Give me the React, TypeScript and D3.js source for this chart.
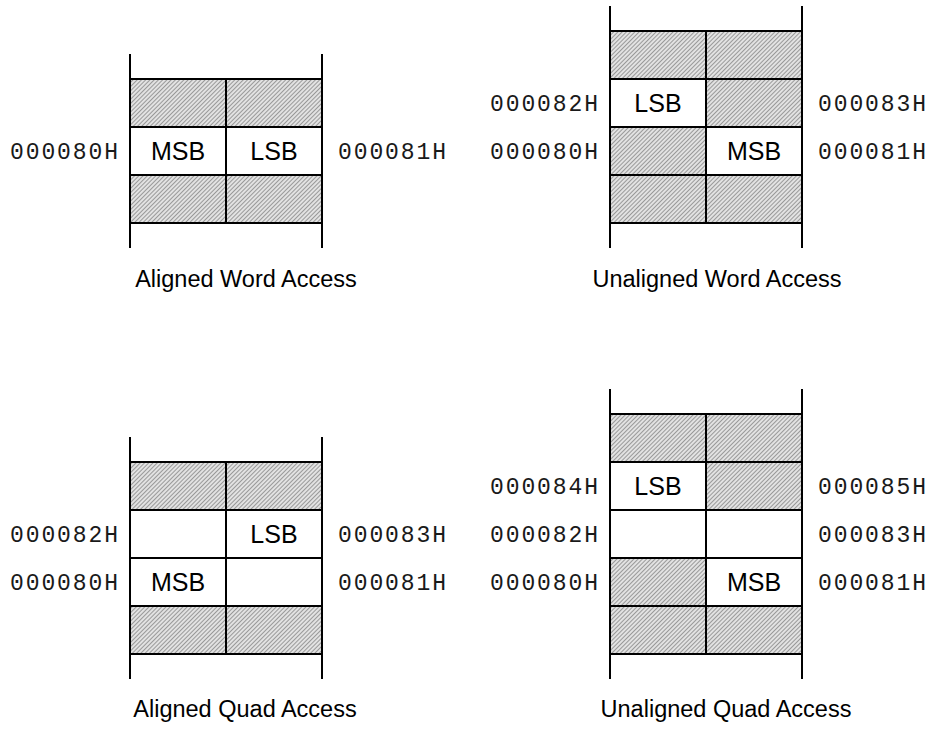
import React from "react";
import * as d3 from "d3";

// Each row (top to bottom): [left cell, right cell]; "#" = hatched
const alignedWordCells = [["#", "#"], ["MSB", "LSB"], ["#", "#"]];
const alignedWordLeft = ["", "000080H", ""];
const alignedWordRight = ["", "000081H", ""];

const unalignedWordCells = [["#", "#"], ["LSB", "#"], ["#", "MSB"], ["#", "#"]];
const unalignedWordLeft = ["", "000082H", "000080H", ""];
const unalignedWordRight = ["", "000083H", "000081H", ""];

const alignedQuadCells = [["#", "#"], ["", "LSB"], ["MSB", ""], ["#", "#"]];
const alignedQuadLeft = ["", "000082H", "000080H", ""];
const alignedQuadRight = ["", "000083H", "000081H", ""];

const unalignedQuadCells = [["#", "#"], ["LSB", "#"], ["", ""], ["#", "MSB"], ["#", "#"]];
const unalignedQuadLeft = ["", "000084H", "000082H", "000080H", ""];
const unalignedQuadRight = ["", "000085H", "000083H", "000081H", ""];

const titles = ["Aligned Word Access", "Unaligned Word Access", "Aligned Quad Access", "Unaligned Quad Access"];

const panels = [
  { cells: alignedWordCells, left: alignedWordLeft, right: alignedWordRight, title: titles[0], x0: 130, top: 79, titleX: 246, titleY: 287 },
  { cells: unalignedWordCells, left: unalignedWordLeft, right: unalignedWordRight, title: titles[1], x0: 610, top: 31, titleX: 717, titleY: 287 },
  { cells: alignedQuadCells, left: alignedQuadLeft, right: alignedQuadRight, title: titles[2], x0: 130, top: 462, titleX: 245, titleY: 717 },
  { cells: unalignedQuadCells, left: unalignedQuadLeft, right: unalignedQuadRight, title: titles[3], x0: 610, top: 414, titleX: 726, titleY: 717 },
];

const ROW_H = 48;
const COL_W = 96;
const EXT = 25;

function Panel({ p }: { p: (typeof panels)[number] }) {
  const n = p.cells.length;
  const y = d3.scaleLinear().domain([0, n]).range([p.top, p.top + n * ROW_H]);
  const x = d3.scaleLinear().domain([0, 2]).range([p.x0, p.x0 + 2 * COL_W]);
  const mono = {
    fontFamily: "'Liberation Mono', 'Courier New', monospace",
    fontSize: 23,
    fill: "#1a1a1a",
  };
  return (
    <g>
      {p.cells.map((row, r) =>
        row.map((c, ci) => (
          <g key={`${r}-${ci}`}>
            <rect
              x={x(ci)}
              y={y(r)}
              width={x(ci + 1) - x(ci)}
              height={y(r + 1) - y(r)}
              fill={c === "#" ? "url(#hatch)" : "#fff"}
              stroke="#000"
              strokeWidth={2}
            />
            {c !== "#" && c !== "" && (
              <text
                x={(x(ci) + x(ci + 1)) / 2}
                y={(y(r) + y(r + 1)) / 2}
                dy="0.35em"
                textAnchor="middle"
                fontFamily="'Liberation Sans', Arial, sans-serif"
                fontSize={25}
              >
                {c}
              </text>
            )}
          </g>
        ))
      )}
      <line x1={x(0)} x2={x(0)} y1={y(0) - EXT} y2={y(n) + EXT} stroke="#000" strokeWidth={2} />
      <line x1={x(2)} x2={x(2)} y1={y(0) - EXT} y2={y(n) + EXT} stroke="#000" strokeWidth={2} />
      {p.left.map((t, r) =>
        t ? (
          <text
            key={`l${r}`}
            x={x(0) - 12}
            y={(y(r) + y(r + 1)) / 2}
            dy="0.35em"
            textAnchor="end"
            {...mono}
            textLength={108}
            lengthAdjust="spacing"
          >
            {t}
          </text>
        ) : null
      )}
      {p.right.map((t, r) =>
        t ? (
          <text
            key={`r${r}`}
            x={x(2) + 16}
            y={(y(r) + y(r + 1)) / 2}
            dy="0.35em"
            textAnchor="start"
            {...mono}
            textLength={108}
            lengthAdjust="spacing"
          >
            {t}
          </text>
        ) : null
      )}
      <text
        x={p.titleX}
        y={p.titleY}
        textAnchor="middle"
        fontFamily="'Liberation Sans', Arial, sans-serif"
        fontSize={23.5}
      >
        {p.title}
      </text>
    </g>
  );
}

export default function App() {
  return (
    <svg
      width={932}
      height={732}
      style={{ position: "absolute", left: 0, top: 0, background: "#fff" }}
    >
      <defs>
        <pattern id="hatch" width={3} height={3} patternUnits="userSpaceOnUse" patternTransform="rotate(45)">
          <rect width={3} height={3} fill="#e2e2e2" />
          <line x1={0.5} y1={0} x2={0.5} y2={3} stroke="#999" strokeWidth={1} />
        </pattern>
      </defs>
      <rect width={932} height={732} fill="#fff" />
      {panels.map((p, i) => (
        <Panel key={i} p={p} />
      ))}
    </svg>
  );
}
